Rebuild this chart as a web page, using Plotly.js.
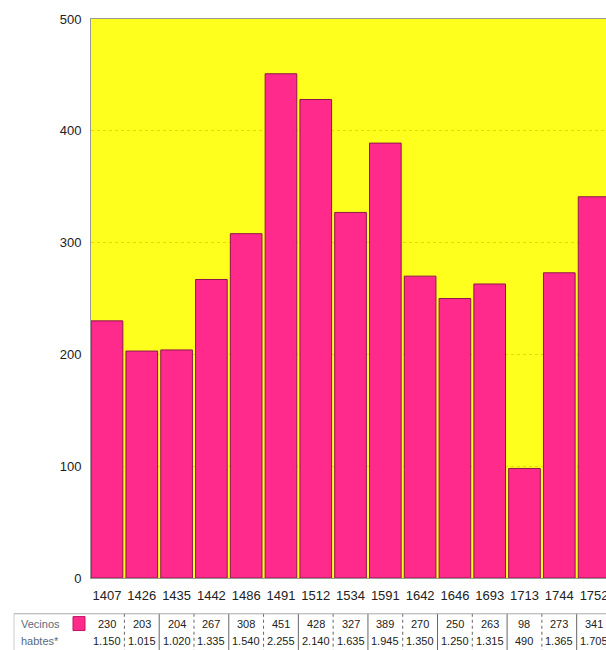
<!DOCTYPE html>
<html>
<head>
<meta charset="utf-8">
<script src="https://cdn.plot.ly/plotly-3.0.1.min.js"></script>
<style>
html,body{margin:0;padding:0;background:#fff;overflow:hidden;width:606px;height:650px;}
#chart{width:640px;height:650px;}
</style>
</head>
<body>
<div id="chart"></div>
<script>
// Data
const years = ['1407','1426','1435','1442','1486','1491','1512','1534','1591','1642','1646','1693','1713','1744','1752'];
const vecinos = [230,203,204,267,308,451,428,327,389,270,250,263,98,273,341];
const habitantesLabels = ['1.150','1.015','1.020','1.335','1.540','2.255','2.140','1.635','1.945','1.350','1.250','1.315','490','1.365','1.705'];
const rowLabels = ['Vecinos','habtes*'];

const barColor = '#ff2a8c';
const idx = years.map((_, i) => i);
const FONT = 'Liberation Sans, Arial, sans-serif';

const trace = {
  type: 'bar',
  x: idx,
  y: vecinos,
  marker: {color: barColor, line: {color: '#8c1848', width: 1}},
  hoverinfo: 'skip'
};

// plot area: left 91, width 549 px  -> paper units per px
const PW = 549;
const px = p => p / PW;
const row1Y = -0.083, row2Y = -0.113, tableTop = -0.064, tableBottom = -0.13;

const annotations = [];
const shapes = [];
idx.forEach(i => {
  annotations.push({xref:'x', yref:'paper', x:i, y:row1Y, text:String(vecinos[i]), showarrow:false,
    font:{family:FONT, size:11, color:'#222'}, xanchor:'center', yanchor:'middle'});
  annotations.push({xref:'x', yref:'paper', x:i, y:row2Y, text:habitantesLabels[i], showarrow:false,
    font:{family:FONT, size:11, color:'#222'}, xanchor:'center', yanchor:'middle'});
  shapes.push({type:'line', xref:'x', yref:'paper', x0:i-0.5, x1:i-0.5, y0:tableTop, y1:tableBottom,
    line:{color:'#666', width:1, dash: (i % 2 === 0) ? 'solid' : 'dot'}});
});
annotations.push({xref:'paper', yref:'paper', x:px(-72), y:row1Y, text:rowLabels[0], showarrow:false,
  font:{family:FONT, size:11, color:'#5a6a80'}, xanchor:'left', yanchor:'middle'});
annotations.push({xref:'paper', yref:'paper', x:px(-72), y:row2Y, text:rowLabels[1], showarrow:false,
  font:{family:FONT, size:11, color:'#5a6a80'}, xanchor:'left', yanchor:'middle'});
// legend swatch
shapes.push({type:'rect', xref:'paper', yref:'paper', x0:px(-18), x1:px(-6), y0:-0.069, y1:-0.094,
  fillcolor:barColor, line:{color:'#c01860', width:1}});
// table top border and left border
shapes.push({type:'line', xref:'paper', yref:'paper', x0:px(-77), x1:1, y0:tableTop, y1:tableTop,
  line:{color:'#aaa', width:1}});
shapes.push({type:'line', xref:'paper', yref:'paper', x0:px(-77), x1:px(-77), y0:tableTop, y1:tableBottom,
  line:{color:'#ccc', width:1}});

const layout = {
  width: 640, height: 650,
  margin: {l: 91, r: 0, t: 19, b: 72},
  paper_bgcolor: '#ffffff',
  plot_bgcolor: '#ffff1e',
  bargap: 0.09,
  showlegend: false,
  font: {family: FONT, size: 13, color: '#222'},
  xaxis: {
    range: [-0.46, 15.32],
    tickmode: 'array', tickvals: idx, ticktext: years,
    showgrid: false, zeroline: false,
    showline: true, linecolor: '#999', linewidth: 1, mirror: true,
    ticks: '', ticklabelstandoff: 5, ticklabeloverflow: 'allow',
    tickfont: {family: FONT, size: 13, color: '#222'},
    fixedrange: true
  },
  yaxis: {
    range: [0, 500],
    tickvals: [0, 100, 200, 300, 400, 500],
    showgrid: true, gridcolor: '#e8da00', griddash: 'dot', gridwidth: 1,
    zeroline: false,
    showline: true, linecolor: '#999', linewidth: 1,
    ticks: '', ticklabelstandoff: 6,
    tickfont: {family: FONT, size: 13, color: '#222'},
    fixedrange: true
  },
  annotations: annotations,
  shapes: shapes
};

Plotly.newPlot('chart', [trace], layout, {displayModeBar: false, staticPlot: true});
</script>
</body>
</html>
